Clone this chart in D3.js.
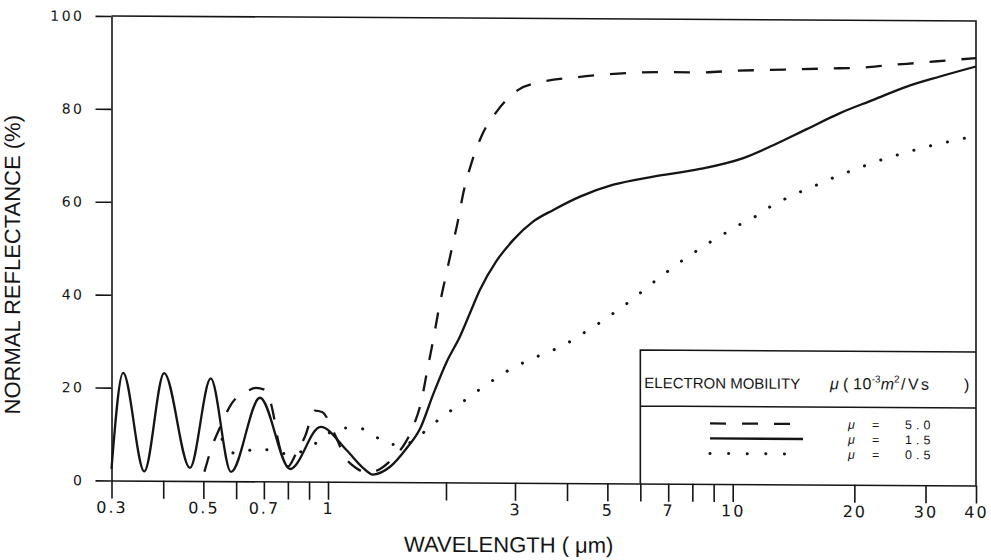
<!DOCTYPE html>
<html>
<head>
<meta charset="utf-8">
<script src="https://cdn.jsdelivr.net/npm/d3@7"></script>
<style>
  body { margin: 0; background: #fff; }
  svg { display: block; }
  .axis path, .axis line { stroke: #151515; stroke-width: 1.6; }
  .axis text { fill: #151515; font-family: "DejaVu Sans", sans-serif; }
</style>
</head>
<body>
<div id="chart-area"></div>
<script>
// wavelength (um) / normal reflectance (%)
const wl_mu50 = [0.503, 0.5245, 0.548, 0.585, 0.636, 0.670, 0.704, 0.7345, 0.757, 0.80, 0.837, 0.880,
  0.930, 0.967, 1.042, 1.104, 1.179, 1.264, 1.358, 1.474, 1.573, 1.650, 1.734, 1.786, 1.856, 1.923,
  1.989, 2.068, 2.150, 2.215, 2.325, 2.467, 2.694, 3.055, 3.509, 4.220, 5.075, 5.993, 7.200, 8.346,
  10.23, 12.14, 14.67, 17.41, 20.65, 24.51, 29.63, 35.16, 40];
const r_mu50 = [2.0, 7.4, 11.5, 16.7, 19.3, 20.1, 19.7, 15.4, 9.0, 3.2, 6.0, 9.7,
  15.3, 15.0, 10.1, 5.4, 3.0, 2.0, 2.8, 5.4, 8.4, 12.0, 17.8, 23.5, 30.7, 37.9,
  43.7, 50.2, 56.7, 62.4, 68.9, 74.7, 79.9, 84.6, 86.4, 87.4, 88.1, 88.5, 88.6, 88.6,
  89.0, 89.2, 89.4, 89.6, 89.8, 90.4, 91.0, 91.6, 92.0];

const wl_mu15 = [0.300, 0.320, 0.360, 0.402, 0.464, 0.521, 0.583, 0.685, 0.810, 0.960, 1.116, 1.230,
  1.301, 1.440, 1.587, 1.717, 1.856, 2.009, 2.173, 2.303, 2.442, 2.694, 2.971, 3.320, 3.709, 4.298,
  5.168, 6.448, 8.346, 10.62, 12.60, 15.24, 18.43, 22.28, 26.96, 32.58, 40];
const r_mu15 = [2.5, 23.2, 2.0, 23.2, 2.8, 22.1, 2.0, 18.0, 2.7, 11.8, 6.8, 3.0,
  1.6, 3.3, 7.3, 11.5, 19.0, 26.0, 31.5, 36.5, 41.5, 47.8, 52.3, 56.3, 58.8, 61.7,
  64.3, 66.1, 67.8, 70.2, 73.0, 76.5, 80.0, 82.9, 85.8, 88.0, 90.2];

const wl_mu05 = [0.555, 0.596, 0.68, 0.809, 0.888, 0.966, 1.053, 1.184, 1.293, 1.413, 1.552, 1.701,
  1.845, 2.009, 2.194, 2.386, 2.600, 2.847, 3.112, 3.413, 3.743, 4.106, 4.485, 4.873, 5.313, 5.753,
  6.235, 6.775, 7.335, 8.015, 8.770, 9.585, 10.47, 11.57, 12.56, 13.81, 15.24, 16.76, 18.43, 20.27,
  22.28, 24.75, 27.35, 30.31, 33.53, 37.21, 40];
const r_mu05 = [9.0, 6.0, 7.0, 5.9, 7.0, 9.2, 11.4, 11.7, 10.4, 8.3, 8.0, 9.8,
  12.4, 14.8, 17.2, 19.5, 21.7, 23.9, 25.7, 27.3, 28.8, 30.7, 32.9, 35.0, 37.4, 39.7,
  42.3, 44.8, 47.2, 49.6, 51.9, 54.0, 56.0, 58.0, 60.1, 61.9, 63.6, 65.1, 66.7, 68.0,
  69.4, 70.7, 71.8, 72.9, 73.8, 74.7, 75.1];

const xTicks = [0.3, 0.4, 0.5, 0.6, 0.7, 0.8, 0.9, 1, 2, 3, 4, 5, 6, 7, 8, 9, 10, 20, 30, 40];
const xTickLabels = [0.3, 0.5, 0.7, 1, 3, 5, 7, 10, 20, 30, 40];
const yTicks = [0, 20, 40, 60, 80, 100];
const mobilities = ["5.0", "1.5", "0.5"];

const canvas_dims = { width: 991, height: 560 };

const svg = d3
  .select("#chart-area")
  .append("svg")
  .attr("width", canvas_dims.width)
  .attr("height", canvas_dims.height);

const scales = {
  // the printed axis is log, but its decades are not spaced quite evenly
  x: d3.scaleLog().domain([0.3, 1, 3, 10, 40]).range([111.5, 328, 515, 732.7, 976]),
  y: d3.scaleLinear().domain([0, 100]).range([480.5, 16])
};

// the scan is slightly tilted: horizontals drop ~5px from left to right
const x0 = scales.x(0.3);
const group = svg
  .append("g")
  .attr("transform", `translate(${x0},0) skewY(0.33) translate(${-x0},0)`);

// axes
const xAxis = d3
  .axisBottom(scales.x)
  .tickValues(xTicks)
  .tickSize(18)
  .tickSizeOuter(0)
  .tickPadding(3)
  .tickFormat(d => (xTickLabels.includes(d) ? String(d) : ""));
group
  .append("g")
  .attr("class", "bottom axis")
  .attr("transform", `translate(0,${scales.y(0)})`)
  .call(xAxis)
  .call(g => g.selectAll("text").attr("font-size", "16px").attr("letter-spacing", "2px"));

const yAxis = d3
  .axisLeft(scales.y)
  .tickValues(yTicks)
  .tickSize(16)
  .tickSizeOuter(0)
  .tickPadding(11);
group
  .append("g")
  .attr("class", "left axis")
  .attr("transform", `translate(${x0},0)`)
  .call(yAxis)
  .call(g => g.selectAll("text").attr("font-size", "14px").attr("letter-spacing", "2.5px"));

// top and right border
group
  .append("path")
  .attr("d", `M${x0},${scales.y(100)}H${scales.x(40)}V${scales.y(0)}`)
  .attr("fill", "none")
  .attr("stroke", "#151515")
  .attr("stroke-width", 1.6);

// axis labels
group
  .append("text")
  .attr("class", "y axis-label")
  .attr("transform", `translate(20,${(scales.y(0) + scales.y(100)) / 2 + 17}) rotate(-90)`)
  .attr("font-family", "Liberation Sans, Arial, sans-serif")
  .attr("font-size", "22px")
  .attr("text-anchor", "middle")
  .attr("fill", "#151515")
  .text("NORMAL REFLECTANCE (%)");

group
  .append("text")
  .attr("class", "x axis-label")
  .attr("x", 404)
  .attr("y", 550)
  .attr("font-family", "Liberation Sans, Arial, sans-serif")
  .attr("font-size", "22px")
  .attr("fill", "#151515")
  .text("WAVELENGTH ( μm)");

// curves
const line = d3
  .line()
  .x(d => scales.x(d[0]))
  .y(d => scales.y(d[1]))
  .curve(d3.curveMonotoneX);

const series = [
  { wl: wl_mu50, r: r_mu50, dash: "16 16", keyDash: "16 16", cap: "butt", width: 2.3 },
  { wl: wl_mu15, r: r_mu15, dash: null, keyDash: null, cap: "butt", width: 2.3 },
  { wl: wl_mu05, r: r_mu05, dash: "0.1 17.2", keyDash: "0.1 18.5", cap: "round", width: 3 }
];

group
  .selectAll(".curve")
  .data(series)
  .enter()
  .append("path")
  .attr("class", "curve")
  .attr("d", s => line(s.wl.map((w, i) => [w, s.r[i]])))
  .attr("fill", "none")
  .attr("stroke", "#151515")
  .attr("stroke-width", s => s.width)
  .attr("stroke-linecap", s => s.cap)
  .attr("stroke-dasharray", s => s.dash);

// legend box, sitting on the x axis from 6 um to the right border
const legend = { left: scales.x(6), right: scales.x(40), top: 347, divider: 403 };
group
  .append("path")
  .attr("d", `M${legend.left},${scales.y(0)}V${legend.top}H${legend.right}M${legend.left},${legend.divider}H${legend.right}`)
  .attr("fill", "none")
  .attr("stroke", "#151515")
  .attr("stroke-width", 1.6);

const header = group
  .append("text")
  .attr("x", legend.left + 4)
  .attr("y", 385)
  .attr("font-family", "Liberation Sans, Arial, sans-serif")
  .attr("font-size", "15px")
  .attr("fill", "#151515");
header.append("tspan").text("ELECTRON MOBILITY");
header.append("tspan").attr("x", 830).attr("font-size", "16px").attr("font-style", "italic").text("μ");
header.append("tspan").attr("x", 843).attr("font-size", "16px").text("(");
header.append("tspan").attr("x", 853).attr("font-size", "16px").attr("letter-spacing", "0.5px").text("10");
header.append("tspan").attr("dy", -7).attr("font-size", "10px").text("-3");
header.append("tspan").attr("dy", 7).attr("font-size", "16px").attr("font-style", "italic").text("m");
header.append("tspan").attr("dy", -7).attr("font-size", "10px").text("2");
header.append("tspan").attr("x", 901).attr("dy", 7).attr("font-size", "16px").attr("letter-spacing", "2.5px").text("/Vs");
header.append("tspan").attr("x", 964).attr("font-size", "16px").text(")");

const rowY = [420, 435, 450];
const rows = group
  .selectAll(".legend-row")
  .data(series)
  .enter()
  .append("g")
  .attr("class", "legend-row")
  .attr("transform", (s, i) => `translate(0,${rowY[i]})`);

rows
  .append("path")
  .attr("d", "M710,0H803")
  .attr("fill", "none")
  .attr("stroke", "#151515")
  .attr("stroke-width", s => s.width)
  .attr("stroke-linecap", s => s.cap)
  .attr("stroke-dasharray", s => s.keyDash);

const rowText = (x, size) =>
  rows
    .append("text")
    .attr("x", x)
    .attr("y", 4.5)
    .attr("font-family", "Liberation Sans, Arial, sans-serif")
    .attr("font-size", size)
    .attr("fill", "#151515");

rowText(848, "12.5px").attr("font-style", "italic").text("μ");
rowText(872, "12.5px").text("=");
rowText(905, "12.5px").attr("letter-spacing", "4px").text((s, i) => mobilities[i]);
</script>
</body>
</html>
